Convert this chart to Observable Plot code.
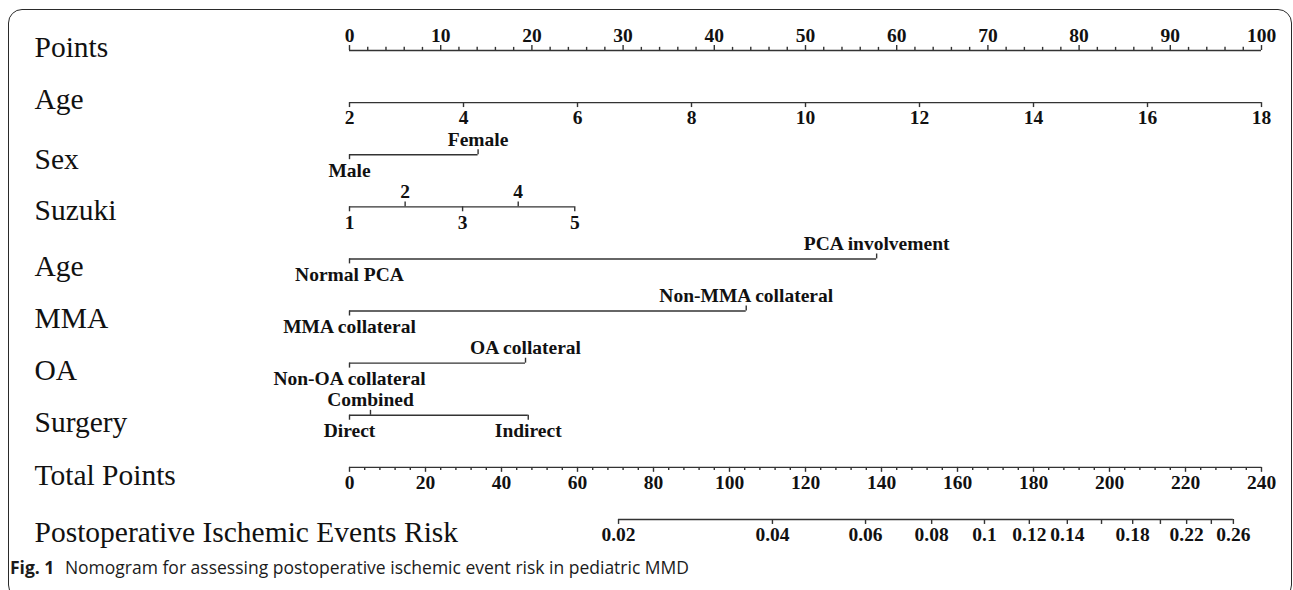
<!DOCTYPE html>
<html>
<head>
<meta charset="utf-8">
<script src="https://cdn.jsdelivr.net/npm/d3@7"></script>
<script src="https://cdn.jsdelivr.net/npm/@observablehq/plot@0.6"></script>
<style>
  html, body { margin: 0; padding: 0; background: #fff; }
  #wrap { position: relative; width: 1293px; height: 590px; overflow: hidden; }
  #box { position: absolute; left: 8px; top: 9px; width: 1284px; height: 590px; box-sizing: border-box;
         border: 1.3px solid #2a2a2a; border-radius: 14px; }
  #chart { position: absolute; left: 0; top: 0; }
  #caption { position: absolute; left: 10px; top: 556px; font-family: "Open Sans", sans-serif; font-size: 17.5px;
             line-height: 22px; color: #1b1b1b; white-space: nowrap; }
  #caption b { font-weight: 700; margin-right: 6px; }
</style>
</head>
<body>
<div id="wrap">
  <div id="box"></div>
  <div id="chart"></div>
  <div id="caption"><b>Fig. 1</b> Nomogram for assessing postoperative ischemic event risk in pediatric MMD</div>
</div>
<script>
// ---- data ----
const rowNames = ["Points", "Age", "Sex", "Suzuki", "Age", "MMA", "OA", "Surgery", "Total Points", "Postoperative Ischemic Events Risk"];

const pointsLabels = [0, 10, 20, 30, 40, 50, 60, 70, 80, 90, 100];
const pointsMinor = [0, 2, 4, 6, 8, 10, 12, 14, 16, 18, 20, 22, 24, 26, 28, 30, 32, 34, 36, 38, 40, 42, 44, 46, 48, 50,
                     52, 54, 56, 58, 60, 62, 64, 66, 68, 70, 72, 74, 76, 78, 80, 82, 84, 86, 88, 90, 92, 94, 96, 98, 100];

const ageTicks = [2, 4, 6, 8, 10, 12, 14, 16, 18];
const ageMin = 2, ageMax = 18; // age 2 -> 0 points, age 18 -> 100 points

const sexLevels = ["Male", "Female"];
const sexPoints = [0, 14.1];
const sexSide = ["below", "above"];

const suzukiLevels = ["1", "2", "3", "4", "5"];
const suzukiPoints = [0, 6.1, 12.4, 18.5, 24.7];
const suzukiSide = ["below", "above", "below", "above", "below"];

const pcaLevels = ["Normal PCA", "PCA involvement"];
const pcaPoints = [0, 57.8];
const pcaSide = ["below", "above"];

const mmaLevels = ["MMA collateral", "Non-MMA collateral"];
const mmaPoints = [0, 43.5];
const mmaSide = ["below", "above"];

const oaLevels = ["Non-OA collateral", "OA collateral"];
const oaPoints = [0, 19.3];
const oaSide = ["below", "above"];

const surgeryLevels = ["Direct", "Combined", "Indirect"];
const surgeryPoints = [0, 2.3, 19.6];
const surgerySide = ["below", "above", "below"];

const totalLabels = [0, 20, 40, 60, 80, 100, 120, 140, 160, 180, 200, 220, 240];
const totalMinor = [];
for (let t = 0; t <= 240; t += 4) totalMinor.push(t);
const totalMax = 240;

const riskTicks = [0.02, 0.04, 0.06, 0.08, 0.1, 0.12, 0.14, 0.16, 0.18, 0.2, 0.22, 0.24, 0.26];
const riskTotalPoints = [70.8, 111.3, 135.8, 153.2, 167.1, 178.9, 188.9, 197.9, 206.1, 213.4, 220.3, 226.8, 232.6];
const riskLabelled = [true, true, true, true, true, true, true, false, true, false, true, false, true];

// small vertical offsets of the row names (in row units), as placed in the reference
const rowNameShift = [-0.05, -0.05, 0.1, 0.08, 0.14, 0.14, 0.14, 0.14, 0.16, 0.25];

// ---- build tables ----
const TICK = 0.095;     // tick length in row units (~5px)
const MINOR = 0.06;     // minor tick length
const segs = [];        // axis lines
const ticks = [];       // tick marks
const labels = [];      // tick labels

function addCat(row, levels, pts, sides) {
  segs.push({row, x1: d3.min(pts), x2: d3.max(pts)});
  levels.forEach((lv, i) => {
    const up = sides[i] === "above";
    ticks.push({row, x: pts[i], y1: row, y2: up ? row - TICK : row + TICK});
    labels.push({row, x: pts[i], text: lv, side: sides[i]});
  });
}

// Points
segs.push({row: 0, x1: 0, x2: 100});
pointsMinor.forEach(p => ticks.push({row: 0, x: p, y1: 0, y2: pointsLabels.includes(p) ? -TICK : -MINOR}));
pointsLabels.forEach(p => labels.push({row: 0, x: p, text: String(p), side: "above"}));

// Age (continuous)
const agePts = a => (a - ageMin) / (ageMax - ageMin) * 100;
segs.push({row: 1, x1: agePts(ageMin), x2: agePts(ageMax)});
ageTicks.forEach(a => {
  ticks.push({row: 1, x: agePts(a), y1: 1, y2: 1 + TICK});
  labels.push({row: 1, x: agePts(a), text: String(a), side: "below"});
});

addCat(2, sexLevels, sexPoints, sexSide);
addCat(3, suzukiLevels, suzukiPoints, suzukiSide);
addCat(4, pcaLevels, pcaPoints, pcaSide);
addCat(5, mmaLevels, mmaPoints, mmaSide);
addCat(6, oaLevels, oaPoints, oaSide);
addCat(7, surgeryLevels, surgeryPoints, surgerySide);

// Total points
const tp = t => t / totalMax * 100;
segs.push({row: 8, x1: 0, x2: 100});
totalMinor.forEach(t => ticks.push({row: 8, x: tp(t), y1: 8, y2: 8 + (totalLabels.includes(t) ? TICK : MINOR)}));
totalLabels.forEach(t => labels.push({row: 8, x: tp(t), text: String(t), side: "below"}));

// Risk
segs.push({row: 9, x1: tp(d3.min(riskTotalPoints)), x2: tp(d3.max(riskTotalPoints))});
riskTicks.forEach((r, i) => {
  ticks.push({row: 9, x: tp(riskTotalPoints[i]), y1: 9, y2: 9 + TICK});
  if (riskLabelled[i]) labels.push({row: 9, x: tp(riskTotalPoints[i]), text: String(r), side: "below"});
});

const serif = "'Liberation Serif', 'Times New Roman', serif";
const ink = "#333";

const chart = Plot.plot({
  width: 1293,
  height: 552,
  margin: 0,
  style: {background: "transparent"},
  x: {domain: [0, 100], range: [349, 1261], axis: null},
  y: {domain: [0, 9], range: [50, 519], axis: null},
  marks: [
    Plot.ruleY(segs, {y: "row", x1: "x1", x2: "x2", stroke: ink, strokeWidth: 1.4}),
    Plot.ruleX(ticks, {x: "x", y1: "y1", y2: "y2", stroke: ink, strokeWidth: 1.4}),
    Plot.text(labels.filter(d => d.side === "above"), {
      x: "x", y: "row", text: "text", lineAnchor: "bottom", dy: -9,
      fontFamily: serif, fontWeight: "bold", fontSize: 19.5, fill: "#111"
    }),
    Plot.text(labels.filter(d => d.side === "below"), {
      x: "x", y: "row", text: "text", lineAnchor: "top", dy: 8,
      fontFamily: serif, fontWeight: "bold", fontSize: 19.5, fill: "#111"
    }),
    Plot.text(rowNames, {
      y: (d, i) => i + rowNameShift[i], text: d => d, frameAnchor: "left", dx: 34,
      textAnchor: "start", fontFamily: serif, fontSize: 29.5, fill: "#111"
    })
  ]
});
document.getElementById("chart").appendChild(chart);
</script>
</body>
</html>
